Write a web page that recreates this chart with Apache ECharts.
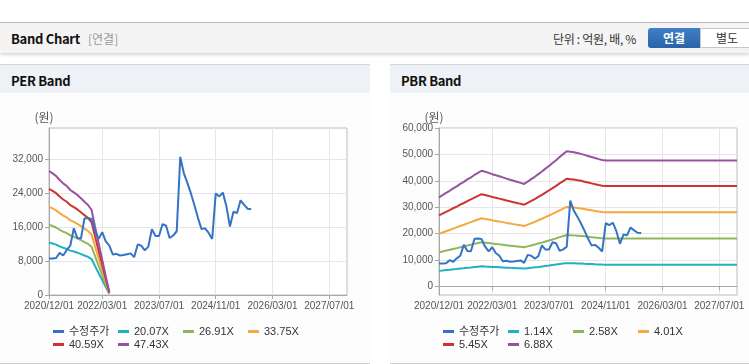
<!DOCTYPE html>
<html>
<head>
<meta charset="utf-8">
<script src="https://cdn.jsdelivr.net/npm/echarts@6/dist/echarts.min.js"></script>
<style>
  body { margin: 0; width: 749px; height: 364px; overflow: hidden; background: #fff;
         font-family: "Noto Sans CJK KR", "Liberation Sans", sans-serif; }
  .topbar { position: absolute; left: 0; top: 22px; width: 749px; height: 30px;
            border-top: 1px solid #b8b8b8; background: #f4f4f4;
            box-shadow: 0 2px 3px rgba(0,0,0,0.16); }
  .title { position: absolute; left: 11px; top: 6px; font-size: 13px; font-weight: bold; color: #111; letter-spacing: -0.3px; }
  .sub { position: absolute; left: 88px; top: 7px; font-size: 12px; color: #999; }
  .unit { position: absolute; left: 553px; top: 7px; font-size: 12px; color: #333; letter-spacing: -0.3px; }
  .btn1 { position: absolute; left: 648px; top: 5px; width: 52px; height: 20px; line-height: 20px;
          text-align: center; color: #fff; font-size: 12px; font-weight: bold;
          background: linear-gradient(#3f80c8, #2a63a6); border-radius: 3px 0 0 3px; }
  .btn2 { position: absolute; left: 700px; top: 5px; width: 52px; height: 18px; line-height: 18px;
          text-align: center; color: #333; font-size: 12px; background: #fff; border: 1px solid #c8c8c8; }
  .panel { position: absolute; top: 64px; height: 298px; border-top: 1px solid #d6d6d6;
           border-bottom: 1px solid #cfcfcf; background: #fdfdfd; }
  .phead { height: 28px; background: #eef1f6; position: relative; }
  .phead span { position: absolute; left: 11px; top: 6px; font-size: 13px; font-weight: bold; color: #111; letter-spacing: -0.3px; }
  .chart { position: absolute; top: 93px; height: 269px; }
</style>
</head>
<body>
<div class="topbar">
  <span class="title">Band Chart</span>
  <span class="sub">[연결]</span>
  <span class="unit">단위 : 억원, 배, %</span>
  <div class="btn1">연결</div>
  <div class="btn2">별도</div>
</div>
<div class="panel" style="left:0;width:370px"><div class="phead"><span>PER Band</span></div></div>
<div class="panel" style="left:390px;width:359px"><div class="phead"><span>PBR Band</span></div></div>
<div id="perChart" class="chart" style="left:0;width:370px"></div>
<div id="pbrChart" class="chart" style="left:390px;width:359px"></div>

<script>
// monthly axis 2020/12 .. 2027/12
const months = [];
for (let y = 2020, m = 12; y * 100 + m <= 202712; m++) {
  if (m > 12) { m = 1; y++; }
  months.push(y + "/" + String(m).padStart(2, "0") + "/01");
}
const tickIdx = [0, 15, 31, 47, 63, 79];
const perTicks = [0, 8000, 16000, 24000, 32000];
const pbrTicks = [0, 10000, 20000, 30000, 40000, 50000, 60000];

// 수정주가 (monthly, 2020/12 ..)
const price = [8600, 8600, 8700, 9900, 9300, 10600, 11600, 15700, 13400, 13300,
  18000, 18100, 17900, 15000, 13200, 14800, 12600, 11600, 9500, 9700,
  9300, 9400, 9600, 9800, 8900, 11900, 11600, 10500, 11400, 15500,
  13900, 13900, 16700, 16300, 13400, 14000, 15000, 32500, 28700, 26400,
  23900, 21100, 18100, 15500, 15700, 14600, 13200, 23900, 23200, 24100,
  20900, 16100, 19600, 19300, 22300, 21200, 20300, 20200];

// PER band
const perNames = ["20.07X", "26.91X", "33.75X", "40.59X", "47.43X"];
const per1 = [12350, 12110, 11850, 11450, 11110, 10850, 10450, 10220, 9960, 9630, 9290, 8960, 8460, 6770, 5120, 3510, 1860, 300];
const per2 = [16560, 16240, 15890, 15350, 14910, 14550, 14020, 13710, 13350, 12910, 12460, 12020, 11350, 9080, 6870, 4710, 2500, 400];
const per3 = [20760, 20370, 19920, 19260, 18690, 18250, 17580, 17190, 16740, 16190, 15630, 15070, 14230, 11390, 8610, 5910, 3130, 500];
const per4 = [24970, 24500, 23960, 23160, 22480, 21950, 21150, 20680, 20140, 19470, 18790, 18130, 17120, 13690, 10360, 7100, 3770, 600];
const per5 = [29180, 28630, 28000, 27060, 26270, 25650, 24710, 24160, 23530, 22750, 21960, 21180, 20000, 16000, 12100, 8300, 4400, 700];

// PBR band
const pbrNames = ["1.14X", "2.58X", "4.01X", "5.45X", "6.88X"];
const pbr1 = [5880, 6020, 6170, 6300, 6450, 6580, 6730, 6860, 7010, 7140, 7290, 7430, 7560,
  7490, 7430, 7340, 7280, 7210, 7140, 7060, 6990, 6930, 6860, 6800, 6730,
  6880, 7030, 7180, 7340, 7510, 7690, 7860, 8040, 8220, 8420, 8600, 8780,
  8750, 8720, 8670, 8620, 8550, 8490, 8420, 8350, 8290, 8240, 8200,
  8200, 8200, 8200, 8200, 8200, 8200, 8200, 8200, 8200, 8200, 8200, 8200, 8200,
  8200, 8200, 8200, 8200, 8200, 8200, 8200, 8200, 8200, 8200, 8200, 8200, 8200,
  8200, 8200, 8200, 8200, 8200, 8200, 8200, 8200, 8200, 8200, 8200];
const pbr2 = [12890, 13210, 13530, 13830, 14160, 14460, 14800, 15100, 15440, 15740, 16080, 16380, 16680,
  16530, 16380, 16190, 16040, 15890, 15740, 15550, 15400, 15250, 15100, 14950, 14800,
  15140, 15480, 15810, 16190, 16560, 16980, 17350, 17760, 18180, 18630, 19040, 19450,
  19380, 19300, 19190, 19080, 18930, 18780, 18630, 18480, 18330, 18210, 18140,
  18140, 18140, 18140, 18140, 18140, 18140, 18140, 18140, 18140, 18140, 18140, 18140, 18140,
  18140, 18140, 18140, 18140, 18140, 18140, 18140, 18140, 18140, 18140, 18140, 18140, 18140,
  18140, 18140, 18140, 18140, 18140, 18140, 18140, 18140, 18140, 18140, 18140];
const pbr3 = [19890, 20390, 20880, 21350, 21870, 22340, 22860, 23330, 23850, 24320, 24840, 25310, 25780,
  25540, 25310, 25020, 24790, 24550, 24320, 24030, 23800, 23560, 23330, 23100, 22860,
  23390, 23910, 24440, 25020, 25600, 26240, 26830, 27470, 28110, 28810, 29450, 30090,
  29970, 29860, 29680, 29510, 29270, 29040, 28810, 28570, 28340, 28170, 28050,
  28050, 28050, 28050, 28050, 28050, 28050, 28050, 28050, 28050, 28050, 28050, 28050, 28050,
  28050, 28050, 28050, 28050, 28050, 28050, 28050, 28050, 28050, 28050, 28050, 28050, 28050,
  28050, 28050, 28050, 28050, 28050, 28050, 28050, 28050, 28050, 28050, 28050];
const pbr4 = [26900, 27570, 28240, 28880, 29590, 30220, 30940, 31570, 32280, 32920, 33630, 34260, 34900,
  34580, 34260, 33870, 33550, 33230, 32920, 32520, 32200, 31890, 31570, 31250, 30940,
  31650, 32360, 33080, 33870, 34660, 35530, 36320, 37200, 38070, 39020, 39890, 40760,
  40600, 40440, 40210, 39970, 39650, 39330, 39020, 38700, 38380, 38150, 37990,
  37990, 37990, 37990, 37990, 37990, 37990, 37990, 37990, 37990, 37990, 37990, 37990, 37990,
  37990, 37990, 37990, 37990, 37990, 37990, 37990, 37990, 37990, 37990, 37990, 37990, 37990,
  37990, 37990, 37990, 37990, 37990, 37990, 37990, 37990, 37990, 37990, 37990];
const pbr5 = [33700, 34550, 35400, 36200, 37100, 37900, 38800, 39600, 40500, 41300, 42200, 43000, 43800,
  43400, 43000, 42500, 42100, 41700, 41300, 40800, 40400, 40000, 39600, 39200, 38800,
  39700, 40600, 41500, 42500, 43500, 44600, 45600, 46700, 47800, 49000, 50100, 51200,
  51000, 50800, 50500, 50200, 49800, 49400, 49000, 48600, 48200, 47900, 47700,
  47700, 47700, 47700, 47700, 47700, 47700, 47700, 47700, 47700, 47700, 47700, 47700, 47700,
  47700, 47700, 47700, 47700, 47700, 47700, 47700, 47700, 47700, 47700, 47700, 47700, 47700,
  47700, 47700, 47700, 47700, 47700, 47700, 47700, 47700, 47700, 47700, 47700];

const colors = ["#3574c4", "#1fb2c2", "#91b55a", "#f4a840", "#cd3431", "#98539f"];
const axisFont = '"Liberation Sans", Arial, sans-serif';
const legFont = '"Liberation Sans", "Noto Sans CJK KR", sans-serif';
const showTick = (i) => tickIdx.indexOf(i) >= 0;

function makeOption(bandNames, bands, yMin, yMax, yTicks) {
  const names = ["수정주가"].concat(bandNames);
  const series = bands.map((d, i) => ({
    name: bandNames[i], type: "line", data: d, showSymbol: false,
    lineStyle: { width: 2, color: colors[i + 1] }, itemStyle: { color: colors[i + 1] }, z: 2,
  }));
  series.push({
    name: "수정주가", type: "line", data: price, showSymbol: false,
    lineStyle: { width: 2, color: colors[0] }, itemStyle: { color: colors[0] }, z: 3,
  });
  // one legend per item so the columns sit on a fixed 65px pitch
  const legends = names.map((n, i) => ({
    data: [n], left: 53 + 65 * (i % 4), top: i < 4 ? 233 : 246,
    padding: 0, icon: "rect", itemWidth: 11, itemHeight: 3,
    textStyle: { fontSize: 11, color: "#333", fontFamily: legFont },
  }));
  return {
    animation: false,
    color: colors,
    grid: { left: 49, right: 0, top: 35, bottom: 67, show: true, borderColor: "#bcbcbc", backgroundColor: "#fff" },
    legend: legends,
    xAxis: {
      type: "category", data: months, boundaryGap: false,
      axisLine: { lineStyle: { color: "#a8a8a8" } },
      axisTick: { show: true, interval: showTick, length: 4, lineStyle: { color: "#a8a8a8" } },
      axisLabel: { interval: showTick, showMinLabel: true, hideOverlap: false, color: "#555", fontSize: 10, fontFamily: axisFont, margin: 6 },
      splitLine: { show: true, interval: showTick, lineStyle: { color: "#e6e6e6" } },
    },
    yAxis: {
      type: "value", min: yMin, max: yMax,
      name: "(원)", nameLocation: "end", nameGap: 5,
      nameTextStyle: { color: "#555", fontSize: 12, fontFamily: '"Noto Sans CJK KR", sans-serif', align: "center", padding: [0, 10, 0, 0] },
      axisLine: { show: true, lineStyle: { color: "#a8a8a8" } },
      axisTick: { show: true, customValues: yTicks, length: 4, lineStyle: { color: "#a8a8a8" } },
      axisLabel: { customValues: yTicks, color: "#555", fontSize: 10, fontFamily: axisFont, margin: 6,
        formatter: (v) => v.toLocaleString("en-US") },
      splitLine: { lineStyle: { color: "#e6e6e6" } },
    },
    series: series,
  };
}

const perChart = echarts.init(document.getElementById("perChart"));
const perOpt = makeOption(perNames, [per1, per2, per3, per4, per5], 0, 39300, perTicks);
perOpt.grid.right = 23;
perChart.setOption(perOpt);

const pbrChart = echarts.init(document.getElementById("pbrChart"));
const pbrOpt = makeOption(pbrNames, [pbr1, pbr2, pbr3, pbr4, pbr5], -3300, 60000, pbrTicks);
pbrOpt.grid.right = 12;
pbrChart.setOption(pbrOpt);
</script>
</body>
</html>
